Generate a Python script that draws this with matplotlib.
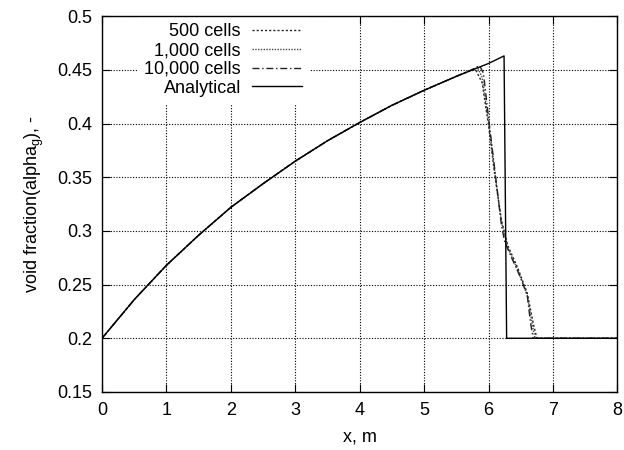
import matplotlib
matplotlib.use("Agg")
import matplotlib.pyplot as plt

plt.rcParams['font.family'] = ['Liberation Sans', 'DejaVu Sans']

# analytical solution
x_an = [0, 0.5, 1, 1.5, 2, 2.5, 3, 3.5, 4, 4.5, 5, 5.5, 6, 6.24, 6.28, 8]
y_an = [0.2, 0.236, 0.268, 0.296, 0.322, 0.344, 0.365, 0.384, 0.401, 0.417,
        0.431, 0.444, 0.456, 0.463, 0.2, 0.2]

# numerical results (common smooth part up to 5.5 m)
x_base = [0, 0.5, 1, 1.5, 2, 2.5, 3, 3.5, 4, 4.5, 5, 5.5]
y_base = [0.2, 0.236, 0.268, 0.296, 0.322, 0.344, 0.365, 0.384, 0.401, 0.417,
          0.431, 0.444]

x_500 = x_base + [5.7, 5.8, 5.9, 6.0, 6.1, 6.2, 6.3, 6.45, 6.6, 6.7, 6.75, 8]
y_500 = y_base + [0.449, 0.450, 0.438, 0.398, 0.350, 0.310, 0.286, 0.266, 0.242, 0.212, 0.2, 0.2]

x_1000 = x_base + [5.7, 5.83, 5.9, 6.0, 6.1, 6.2, 6.3, 6.45, 6.6, 6.68, 6.72, 8]
y_1000 = y_base + [0.449, 0.452, 0.443, 0.402, 0.353, 0.308, 0.284, 0.264, 0.240, 0.212, 0.2, 0.2]

x_10000 = x_base + [5.7, 5.86, 5.92, 6.0, 6.1, 6.2, 6.25, 6.35, 6.5, 6.6, 6.65, 6.69, 8]
y_10000 = y_base + [0.449, 0.454, 0.447, 0.405, 0.355, 0.305, 0.290, 0.276, 0.256, 0.240, 0.215, 0.2, 0.2]

fig = plt.figure(figsize=(6.24, 4.5), dpi=100)
ax = fig.add_axes([0.1635, 0.129, 0.826, 0.835])

ax.plot(x_500, y_500, color='#222222', lw=1.0, ls=(0, (1.5, 1.5)), label='500 cells')
ax.plot(x_1000, y_1000, color='#444444', lw=1.0, ls=(0, (1, 1)), label='1,000 cells')
ax.plot(x_10000, y_10000, color='#222222', lw=1.0, ls=(0, (5, 2, 1, 2)), label='10,000 cells')
ax.plot(x_an, y_an, color='black', lw=1.0, ls='-', label='Analytical')

ax.set_xlim(0, 8)
ax.set_ylim(0.15, 0.5)
ax.set_xticks(range(0, 9))
ax.set_yticks([0.15, 0.2, 0.25, 0.3, 0.35, 0.4, 0.45, 0.5])
ax.set_yticklabels(['0.15', '0.2', '0.25', '0.3', '0.35', '0.4', '0.45', '0.5'])
ax.tick_params(direction='in', top=True, right=True, length=6, labelsize=13, pad=7)
ax.grid(True, color='black', ls=(0, (1, 1.5)), lw=0.8)
for s in ax.spines.values():
    s.set_linewidth(1.0)

ax.set_xlabel('x, m', fontsize=13, labelpad=7)
ax.set_ylabel(r'void fraction(alpha$_\mathregular{g}$), -', fontsize=13, labelpad=8)

leg = ax.legend(loc='upper left', bbox_to_anchor=(0.061, 1.01), frameon=True,
                facecolor='white', edgecolor='none', framealpha=1.0, fancybox=False,
                fontsize=13, markerfirst=False, handlelength=2.8,
                labelspacing=0.1, handletextpad=0.6, borderaxespad=0.2)
leg.set_zorder(2)  # above grid, below spines/ticks
# right-align the legend rows like gnuplot's key
for col in leg._legend_box._children[-1]._children:
    col.align = 'right'

fig.savefig('out.png', dpi=100)
